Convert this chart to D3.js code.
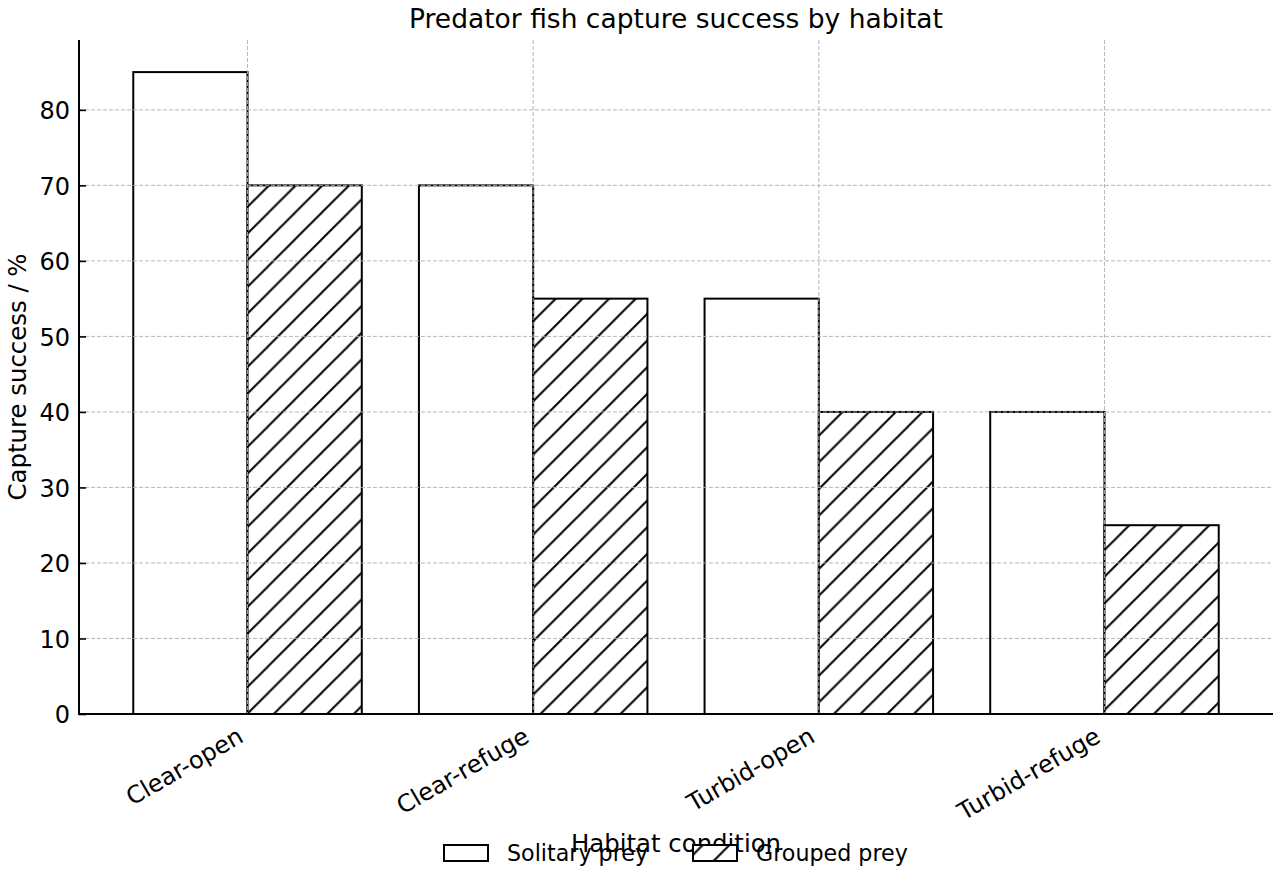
<!DOCTYPE html>
<html>
<head>
<meta charset="utf-8">
<script src="https://cdn.jsdelivr.net/npm/d3@7"></script>
<style>
  html, body { margin: 0; padding: 0; background: #fff; }
  svg { display: block; font-family: "DejaVu Sans", sans-serif; }
</style>
</head>
<body>
<svg id="chart" width="1280" height="880"></svg>
<script>
const categories = ["Clear-open", "Clear-refuge", "Turbid-open", "Turbid-refuge"];
const solitary = [85, 70, 55, 40];
const grouped = [70, 55, 40, 25];
const seriesNames = ["Solitary prey", "Grouped prey"];
const yTicks = [0, 10, 20, 30, 40, 50, 60, 70, 80];
const title = "Predator fish capture success by habitat";
const xLabel = "Habitat condition";
const yLabel = "Capture success / %";

const svg = d3.select("#chart");
const L = 79, R = 1273, T = 40, B = 714;
const barW = 0.4;

const x = d3.scaleLinear().domain([-0.59, 3.59]).range([L, R]);
const y = d3.scaleLinear().domain([0, 89.25]).range([B, T]);

// hatch pattern
const P = 26.67;
const defs = svg.append("defs");
const pat = defs.append("pattern")
  .attr("id", "hatch")
  .attr("patternUnits", "userSpaceOnUse")
  .attr("width", P).attr("height", P)
  .attr("patternTransform", "translate(1,0)");
pat.append("rect").attr("width", P).attr("height", P).attr("fill", "#fff");
[[-P / 2, P * 1.5, P * 1.5, -P / 2], [-P * 1.5, P * 1.5, P * 1.5, -P * 1.5], [-P / 2, P * 2.5, P * 2.5, -P / 2]].forEach(s => {
  pat.append("line").attr("x1", s[0]).attr("y1", s[1]).attr("x2", s[2]).attr("y2", s[3])
    .attr("stroke", "#000").attr("stroke-width", 2);
});

// bars
const gBars = svg.append("g");
gBars.selectAll("rect.sol").data(solitary).enter().append("rect")
  .attr("class", "sol")
  .attr("x", (d, i) => x(i - barW))
  .attr("y", d => y(d))
  .attr("width", (d, i) => x(i) - x(i - barW))
  .attr("height", d => y(0) - y(d))
  .attr("fill", "#fff").attr("stroke", "#000").attr("stroke-width", 2);
gBars.selectAll("rect.grp").data(grouped).enter().append("rect")
  .attr("class", "grp")
  .attr("x", (d, i) => x(i))
  .attr("y", d => y(d))
  .attr("width", (d, i) => x(i + barW) - x(i))
  .attr("height", d => y(0) - y(d))
  .attr("fill", "url(#hatch)").attr("stroke", "#000").attr("stroke-width", 2);

// grid (drawn over bars)
const gGrid = svg.append("g");
gGrid.selectAll("line.hg").data(yTicks.filter(d => d > 0)).enter().append("line")
  .attr("x1", L).attr("x2", R).attr("y1", d => y(d)).attr("y2", d => y(d))
  .attr("stroke", "#b0b0b0").attr("stroke-width", 0.9).attr("stroke-dasharray", "4,2");
gGrid.selectAll("line.vg").data(categories).enter().append("line")
  .attr("y1", T).attr("y2", B).attr("x1", (d, i) => x(i)).attr("x2", (d, i) => x(i))
  .attr("stroke", "#b0b0b0").attr("stroke-width", 0.9).attr("stroke-dasharray", "4,2");

// y axis
const yAxis = d3.axisLeft(y).tickValues(yTicks).tickSize(-7).tickSizeOuter(0).tickPadding(9);
const gy = svg.append("g").attr("transform", `translate(${L},0)`).call(yAxis);
gy.select(".domain").remove();
gy.selectAll(".tick line").attr("stroke", "#000").attr("stroke-width", 1.6);
gy.selectAll(".tick text").attr("font-size", 24).attr("fill", "#000")
  .attr("font-family", "DejaVu Sans").attr("dy", "0.36em");

// x axis labels
const xAxis = d3.axisBottom(x).tickValues(d3.range(categories.length))
  .tickFormat(i => categories[i]).tickSize(0).tickSizeOuter(0);
const gx = svg.append("g").attr("transform", `translate(0,${B})`).call(xAxis);
gx.select(".domain").remove();
gx.selectAll(".tick text")
  .attr("font-size", 24).attr("fill", "#000").attr("font-family", "DejaVu Sans")
  .attr("text-anchor", "end")
  .attr("dy", null)
  .attr("y", 0)
  .attr("transform", "translate(-3,27) rotate(-30)");

// spines
svg.append("line").attr("x1", L).attr("x2", L).attr("y1", T).attr("y2", B + 1)
  .attr("stroke", "#000").attr("stroke-width", 2);
svg.append("line").attr("x1", L - 1).attr("x2", R).attr("y1", B).attr("y2", B)
  .attr("stroke", "#000").attr("stroke-width", 2);

// title and labels
svg.append("text").attr("x", (L + R) / 2).attr("y", 28).attr("text-anchor", "middle")
  .attr("font-size", 26.5).text(title);
svg.append("text").attr("x", (L + R) / 2).attr("y", 852).attr("text-anchor", "middle")
  .attr("font-size", 24.4).text(xLabel);
svg.append("text").attr("transform", `translate(26,${(T + B) / 2}) rotate(-90)`)
  .attr("text-anchor", "middle").attr("font-size", 24.4).text(yLabel);

// legend
const legendItems = [
  { name: seriesNames[0], fill: "#fff", px: 444 },
  { name: seriesNames[1], fill: "url(#hatch)", px: 693 }
];
const gL = svg.append("g");
legendItems.forEach(it => {
  gL.append("rect").attr("x", it.px).attr("y", 845).attr("width", 44).attr("height", 16)
    .attr("fill", it.fill).attr("stroke", "#000").attr("stroke-width", 2);
  gL.append("text").attr("x", it.px + 63).attr("y", 861).attr("font-size", 22.2).text(it.name);
});
</script>
</body>
</html>
